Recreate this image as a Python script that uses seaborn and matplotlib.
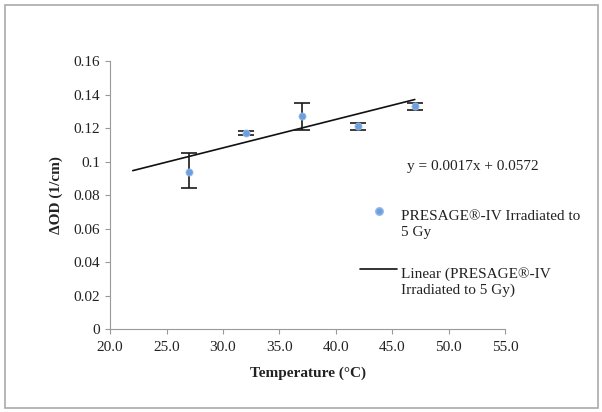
import matplotlib.pyplot as plt
import seaborn as sns
import pandas as pd
import numpy as np
from matplotlib.patches import Rectangle
from matplotlib.lines import Line2D

# data
temperature = [27, 32, 37, 42, 47]
delta_od = [0.094, 0.117, 0.127, 0.121, 0.133]
err_low = [0.010, 0.001, 0.008, 0.002, 0.002]
err_high = [0.011, 0.001, 0.008, 0.002, 0.002]
fit_range = [22, 47]
slope, intercept = 0.0017, 0.0572

series_label = 'PRESAGE®-IV Irradiated to\n5 Gy'
fit_label = 'Linear (PRESAGE®-IV\nIrradiated to 5 Gy)'
equation = 'y = 0.0017x + 0.0572'

df = pd.DataFrame({'Temperature': temperature, 'dOD': delta_od})
fit = pd.DataFrame({'Temperature': fit_range})
fit['dOD'] = slope * fit['Temperature'] + intercept

sns.set_theme(style="ticks")
plt.rcParams['font.family'] = ['Liberation Serif', 'DejaVu Serif']

W, H = 602, 412
fig = plt.figure(figsize=(W / 100, H / 100), dpi=100)
ax = fig.add_axes([0.183, 0.2015, 0.656, 0.650])

pt_color = '#6a9fe0'
ax.errorbar(temperature, delta_od, yerr=[err_low, err_high], fmt='none',
            ecolor='#1a1a1a', elinewidth=1.2, capsize=5.5, capthick=1.2, zorder=2)
sns.scatterplot(data=df, x='Temperature', y='dOD', ax=ax, color=pt_color,
                s=26, edgecolor='#9dbde8', linewidth=0.6, zorder=3, legend=False)
sns.lineplot(data=fit, x='Temperature', y='dOD', ax=ax, color='#111111',
             linewidth=1.2, zorder=1)

ax.set_xlim(20, 55)
ax.set_ylim(0, 0.16)
xt = np.arange(20, 56, 5)
ax.set_xticks(xt)
ax.set_xticklabels([f"{v:.1f}" for v in xt])
ax.set_yticks(np.arange(0, 0.161, 0.02))
ax.set_yticklabels(['0', '0.02', '0.04', '0.06', '0.08', '0.1', '0.12', '0.14', '0.16'])
ax.tick_params(labelsize=11, length=3.5, width=0.8, color='#999999',
               direction='out', labelcolor='#222222')
ax.tick_params(axis='x', pad=5)
for s in ['left', 'bottom']:
    ax.spines[s].set_color('#999999')
    ax.spines[s].set_linewidth(0.8)
sns.despine(ax=ax)

ax.set_xlabel('Temperature (°C)', fontsize=11, fontweight='bold', labelpad=9,
              color='#222222')
ax.set_ylabel('ΔOD (1/cm)', fontsize=11, fontweight='bold', labelpad=8,
              color='#222222')


def fx(px):
    return px / W


def fy(py):
    return 1 - py / H


# trend line equation
fig.text(fx(407), fy(166), equation, fontsize=11, va='center', ha='left',
         color='#222222')

# legend, drawn in the style of the original (marker beside the first line)
fig.add_artist(Line2D([fx(379)], [fy(211)], transform=fig.transFigure,
                      marker='o', linestyle='none', color=pt_color,
                      markeredgecolor='#9dbde8', markersize=5.5))
fig.text(fx(401), fy(236), series_label, fontsize=11, va='baseline',
         ha='left', linespacing=1.25, color='#222222')
fig.add_artist(Line2D([fx(360), fx(397)], [fy(269), fy(269)],
                      transform=fig.transFigure, color='#111111', linewidth=1.2))
fig.text(fx(401), fy(294), fit_label, fontsize=11, va='baseline',
         ha='left', linespacing=1.25, color='#222222')

fig.patches.append(Rectangle((fx(5), fy(408)), fx(593), 403 / H,
                             transform=fig.transFigure, fill=False,
                             edgecolor='#aaaaaa', linewidth=1.2))

fig.savefig('out.png', dpi=100)
